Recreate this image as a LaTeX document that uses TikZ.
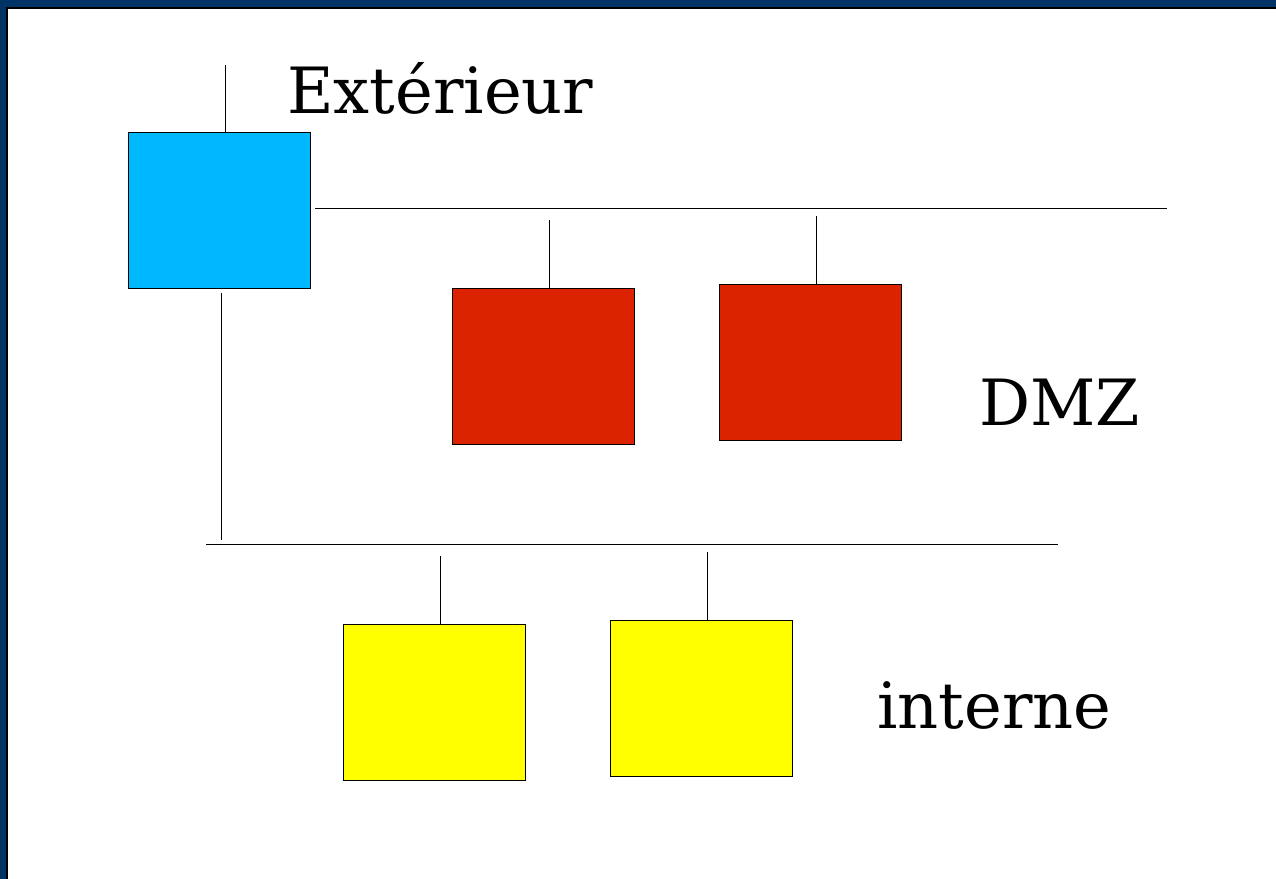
\documentclass[tikz,border=0pt]{standalone}
\usepackage{fontspec}
\setmainfont{DejaVu Serif}
\definecolor{cadre}{RGB}{0,52,102}
\definecolor{bleu}{RGB}{0,184,255}
\definecolor{rouge}{RGB}{220,35,0}
\definecolor{jaune}{RGB}{255,255,0}
\begin{document}
\begin{tikzpicture}[x=0.02cm, y=-0.02cm,
 machine/.style={draw, line width=.5pt, minimum width=3.64cm, minimum height=3.12cm, inner sep=0pt},
 fil/.style={line width=.5pt},
 zone/.style={font=\fontsize{36.3}{44}\selectfont, inner sep=0pt, anchor=base west}]
\useasboundingbox (0,0) rectangle (1276,879);
\fill[cadre](0,0) rectangle (1276,879);
\fill[white](7,8) rectangle (1276,879);
\draw[black, line width=.6pt](7,879)--(7,8)--(1276,8);
% machines
\node[machine, fill=bleu] (pare) at (219.5,210) {};
\node[machine, fill=rouge] (dmzA) at (543,366) {};
\node[machine, fill=rouge] (dmzB) at (810,362) {};
\node[machine, fill=jaune] (intA) at (434,702) {};
\node[machine, fill=jaune] (intB) at (701,698) {};
% reseaux
\coordinate (ext) at (225,65);
\coordinate (dmzG) at (315,208);
\coordinate (dmzD) at (1167,208);
\coordinate (intG) at (206,544);
\coordinate (intD) at (1058,544);
\draw[fil](dmzG)--(dmzD);
\draw[fil](intG)--(intD);
\draw[fil](ext)--(ext |- pare.north);
\draw[fil](221,293)--(221,540);
\draw[fil](549,220)--(549,288);
\draw[fil](816,216)--(816,284);
\draw[fil](440,556)--(440,624);
\draw[fil](707,552)--(707,620);
% textes
\node[zone] (lext) at (287,113) {Extérieur};
\node[zone] (ldmz) at (979,425) {DMZ};
\node[zone] (lint) at (877,728) {interne};
\end{tikzpicture}
\end{document}
